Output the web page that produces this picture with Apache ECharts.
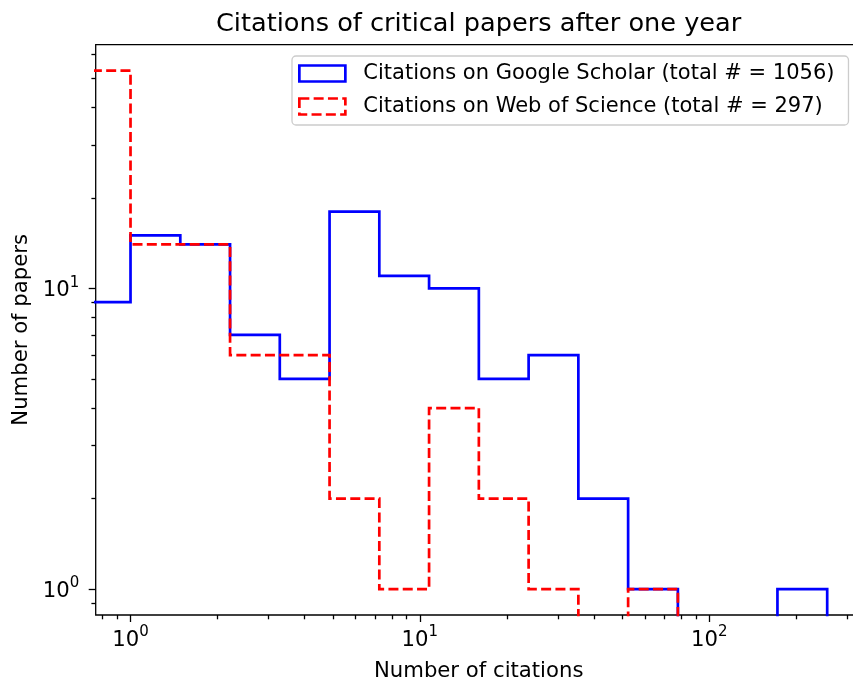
<!DOCTYPE html>
<html><head><meta charset="utf-8">
<script src="https://cdn.jsdelivr.net/npm/echarts@6/dist/echarts.min.js"></script>
<style>html,body{margin:0;padding:0;background:#fff}#chart{width:853px;height:680px}</style>
</head><body><div id="chart"></div>
<script>
// ---- data ----
const binEdges = [0, 1, 1.486, 2.208, 3.280, 4.874, 7.242, 10.76, 15.99, 23.76, 35.30, 52.45, 77.93, 115.8, 172.1, 255.7];
const googleCounts = [9, 15, 14, 7, 5, 18, 11, 10, 5, 6, 2, 1, 0, 0, 1];
const wosCounts = [53, 14, 14, 6, 6, 2, 1, 4, 2, 1, 0, 1, 0, 0, 0];
const seriesNames = ['Citations on Google Scholar (total # = 1056)', 'Citations on Web of Science (total # = 297)'];
const titleText = 'Citations of critical papers after one year';
const xName = 'Number of citations';
const yName = 'Number of papers';
const xMajorTicks = [1, 10, 100];
const xMinorTicks = [0.8, 0.9, 2, 3, 4, 5, 6, 7, 8, 9, 20, 30, 40, 50, 60, 70, 80, 90, 200, 300];
const yMajorTicks = [1, 10];
const yMinorTicks = [0.9, 2, 3, 4, 5, 6, 7, 8, 9, 20, 30, 40, 50, 60];
const xRange = [0.758, 336.5];
const yRange = [0.820, 64.6];

// ---- build ----
const OFF = 1e-3; // stand-in for 0 on log axes; lies outside the plot and is clipped
function stepPoints(edges, counts) {
  const pos = v => (v > 0 ? v : OFF);
  const pts = [];
  counts.forEach((c, i) => {
    pts.push([pos(edges[i]), pos(c)]);
    pts.push([pos(edges[i + 1]), pos(c)]);
  });
  pts.push([edges[edges.length - 1], OFF]);
  return pts;
}
const FONT = 'DejaVu Sans';
const FS = 21.2;
const fmtPow = v => '{b|10}{s|' + Math.round(Math.log10(v)) + '}';
const powRich = {
  b: {fontFamily: FONT, fontSize: FS, lineHeight: 26, verticalAlign: 'bottom', color: '#000'},
  s: {fontFamily: FONT, fontSize: 15, lineHeight: 15, verticalAlign: 'top', color: '#000'}
};
const grid = {left: 95.7, top: 44.7, width: 766, height: 570.3};

const chart = echarts.init(document.getElementById('chart'), null, {renderer: 'canvas'});
const tickLine = {color: '#000', width: 1.3};
chart.setOption({
  animation: false,
  backgroundColor: '#fff',
  title: {
    text: titleText, left: 478.6, top: 11.5, textAlign: 'center', padding: 0,
    textStyle: {fontFamily: FONT, fontSize: 25.6, fontWeight: 'normal', color: '#000'}
  },
  legend: {
    orient: 'vertical', left: 292, top: 56,
    selectedMode: false,
    itemWidth: 46, itemHeight: 16, itemGap: 12,
    padding: [7, 14, 8, 6],
    backgroundColor: 'rgba(255,255,255,0.8)',
    borderColor: '#cccccc', borderWidth: 1.3, borderRadius: 4,
    icon: 'rect',
    textStyle: {fontFamily: FONT, fontSize: 21, color: '#000', padding: [0, 0, 0, 13]},
    data: [
      {name: seriesNames[0], itemStyle: {color: 'rgba(0,0,0,0)', borderColor: '#0000ff', borderWidth: 2.7, borderType: 'solid'}},
      {name: seriesNames[1], itemStyle: {color: 'rgba(0,0,0,0)', borderColor: '#ff0000', borderWidth: 2.7, borderType: [10, 4.3]}}
    ]
  },
  grid: Object.assign({show: true, borderColor: '#000', borderWidth: 1.3, backgroundColor: 'rgba(0,0,0,0)', containLabel: false, outerBoundsMode: 'none'}, grid),
  xAxis: [
    {
      type: 'log', logBase: 10, min: xRange[0], max: xRange[1], position: 'bottom',
      name: xName, nameLocation: 'middle', nameGap: 45.5,
      nameTextStyle: {fontFamily: FONT, fontSize: FS, color: '#000'},
      axisLine: {show: false},
      splitLine: {show: false},
      axisTick: {show: true, length: 7, lineStyle: tickLine, customValues: xMajorTicks},
      axisLabel: {show: true, margin: 10, customValues: xMajorTicks, formatter: fmtPow, rich: powRich}
    },
    {
      type: 'log', logBase: 10, min: xRange[0], max: xRange[1], position: 'bottom',
      axisLine: {show: false}, splitLine: {show: false},
      axisLabel: {show: false},
      axisTick: {show: true, length: 4.3, lineStyle: tickLine, customValues: xMinorTicks}
    }
  ],
  yAxis: [
    {
      type: 'log', logBase: 10, min: yRange[0], max: yRange[1], position: 'left',
      name: yName, nameLocation: 'middle', nameGap: 61,
      nameTextStyle: {fontFamily: FONT, fontSize: FS, color: '#000'},
      axisLine: {show: false}, splitLine: {show: false},
      axisTick: {show: true, length: 7, lineStyle: tickLine, customValues: yMajorTicks},
      axisLabel: {show: true, margin: 16.5, customValues: yMajorTicks, formatter: fmtPow, rich: powRich}
    },
    {
      type: 'log', logBase: 10, min: yRange[0], max: yRange[1], position: 'left',
      axisLine: {show: false}, splitLine: {show: false},
      axisLabel: {show: false},
      axisTick: {show: true, length: 4.3, lineStyle: tickLine, customValues: yMinorTicks}
    }
  ],
  series: [
    {
      name: seriesNames[0], type: 'line', xAxisIndex: 0, yAxisIndex: 0,
      data: stepPoints(binEdges, googleCounts), showSymbol: false, symbol: 'none', clip: true,
      color: '#0000ff',
      lineStyle: {color: '#0000ff', width: 2.7, type: 'solid', cap: 'butt', join: 'miter'}
    },
    {
      name: seriesNames[1], type: 'line', xAxisIndex: 0, yAxisIndex: 0,
      data: stepPoints(binEdges, wosCounts), showSymbol: false, symbol: 'none', clip: true,
      color: '#ff0000',
      lineStyle: {color: '#ff0000', width: 2.7, type: [10, 4.3], cap: 'butt', join: 'miter'}
    }
  ]
});
</script></body></html>
